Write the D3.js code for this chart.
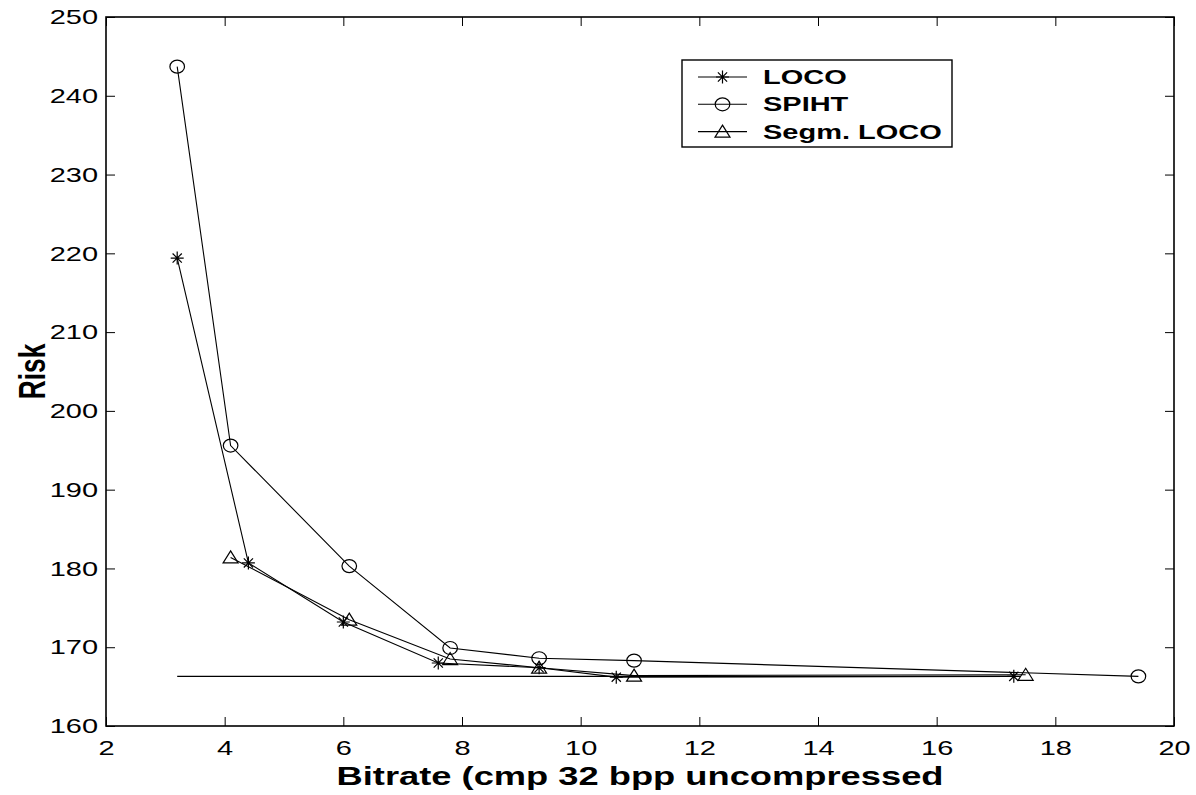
<!DOCTYPE html>
<html>
<head>
<meta charset="utf-8">
<script src="https://cdn.jsdelivr.net/npm/d3@7/dist/d3.min.js"></script>
<style>
  html, body { margin: 0; padding: 0; background: #fff; }
  svg { display: block; }
  text { font-family: "Liberation Sans", Arial, Helvetica, sans-serif; fill: #000; }
</style>
</head>
<body>
<svg id="chart" width="1196" height="795"></svg>
<script>
// Bitrate (x) and risk (y) for each coder
const locoBitrate  = [3.2, 4.4, 6.0, 7.6, 9.3, 10.6, 17.3];
const locoRisk     = [219.4, 180.7, 173.2, 168.0, 167.4, 166.2, 166.3];

const spihtBitrate = [3.2, 4.1, 6.1, 7.8, 9.3, 10.9, 19.4];
const spihtRisk    = [243.7, 195.6, 180.3, 169.9, 168.6, 168.3, 166.3];

const segmBitrate  = [4.1, 6.1, 7.8, 9.3, 10.9, 17.5];
const segmRisk     = [181.4, 173.5, 168.5, 167.4, 166.4, 166.5];

// Plain reference level, drawn without markers
const refBitrate   = [3.2, 17.3];
const refRisk      = [166.3, 166.3];

const xTicks = [2, 4, 6, 8, 10, 12, 14, 16, 18, 20];
const yTicks = [160, 170, 180, 190, 200, 210, 220, 230, 240, 250];

const seriesNames = ["LOCO", "SPIHT", "Segm. LOCO"];
const markerKinds = ["star", "circle", "triangle"];

(function draw() {
  const svg = d3.select("#chart");
  const padL = 106, padR = 1174, padT = 17, padB = 726;
  const stretch = 1.38;   // wide lettering used throughout the figure

  const x = d3.scaleLinear().domain([2, 20]).range([padL, padR]);
  const y = d3.scaleLinear().domain([160, 250]).range([padB, padT]);

  const zip = (xs, ys) => xs.map((v, i) => [v, ys[i]]);
  const series = [
    { name: seriesNames[0], marker: markerKinds[0], pts: zip(locoBitrate, locoRisk) },
    { name: seriesNames[1], marker: markerKinds[1], pts: zip(spihtBitrate, spihtRisk) },
    { name: seriesNames[2], marker: markerKinds[2], pts: zip(segmBitrate, segmRisk) }
  ];

  // Axes box with inward ticks on all four sides
  const tickLen = 9;
  svg.append("rect")
    .attr("x", padL).attr("y", padT)
    .attr("width", padR - padL).attr("height", padB - padT)
    .attr("fill", "none").attr("stroke", "#000").attr("stroke-width", 1.6);

  const xb = d3.axisBottom(x).tickValues(xTicks).tickSizeInner(-tickLen).tickSizeOuter(0).tickPadding(14);
  const xt = d3.axisTop(x).tickValues(xTicks).tickSizeInner(-tickLen).tickSizeOuter(0).tickFormat("");
  const yl = d3.axisLeft(y).tickValues(yTicks).tickSizeInner(-tickLen).tickSizeOuter(0);
  const yr = d3.axisRight(y).tickValues(yTicks).tickSizeInner(-tickLen).tickSizeOuter(0).tickFormat("");

  function styleAxis(g) {
    g.select(".domain").remove();
    g.selectAll(".tick line").attr("stroke", "#000").attr("stroke-width", 1);
    g.selectAll(".tick text")
      .attr("font-size", 21)
      .attr("font-family", "'Liberation Sans', Arial, sans-serif")
      .attr("fill", "#000");
  }
  svg.append("g").attr("transform", `translate(0,${padB})`).call(xb).call(styleAxis)
    .selectAll(".tick text").attr("transform", `scale(${stretch},1)`);
  svg.append("g").attr("transform", `translate(0,${padT})`).call(xt).call(styleAxis);
  svg.append("g").attr("transform", `translate(${padL},0)`).call(yl).call(styleAxis)
    .selectAll(".tick text").attr("x", -8 / stretch).attr("transform", `scale(${stretch},1)`);
  svg.append("g").attr("transform", `translate(${padR},0)`).call(yr).call(styleAxis);

  // Axis titles
  svg.append("g").attr("transform", `translate(${(padL + padR) / 2},785) scale(${stretch},1)`)
    .append("text")
    .attr("text-anchor", "middle")
    .attr("font-size", 26.3).attr("font-weight", "bold")
    .text("Bitrate (cmp 32 bpp uncompressed");
  svg.append("g").attr("transform", `translate(45,${(padT + padB) / 2}) rotate(-90) scale(1,${stretch})`)
    .append("text")
    .attr("text-anchor", "middle")
    .attr("font-size", 26.3).attr("font-weight", "bold")
    .text("Risk");

  // Marker drawing
  function drawMarker(g, kind) {
    if (kind === "star") {
      const a = 6.5, d = 4.6;
      g.append("path")
        .attr("d", `M${-a},0L${a},0M0,${-a}L0,${a}M${-d},${-d}L${d},${d}M${-d},${d}L${d},${-d}`)
        .attr("stroke", "#000").attr("stroke-width", 1.2).attr("fill", "none");
    } else if (kind === "circle") {
      g.append("ellipse").attr("rx", 7.3).attr("ry", 6.5)
        .attr("fill", "none").attr("stroke", "#000").attr("stroke-width", 1.2);
    } else {
      g.append("path").attr("d", "M0,-6.5L7.5,5.5L-7.5,5.5Z")
        .attr("fill", "none").attr("stroke", "#000").attr("stroke-width", 1.2);
    }
  }

  const line = d3.line().x(d => x(d[0])).y(d => y(d[1]));
  const plot = svg.append("g");

  plot.append("path")
    .attr("d", line(zip(refBitrate, refRisk)))
    .attr("fill", "none").attr("stroke", "#000").attr("stroke-width", 1.1);

  series.forEach(s => {
    plot.append("path")
      .attr("d", line(s.pts))
      .attr("fill", "none").attr("stroke", "#000").attr("stroke-width", 1.1);
    s.pts.forEach(p => {
      const g = plot.append("g").attr("transform", `translate(${x(p[0])},${y(p[1])})`);
      drawMarker(g, s.marker);
    });
  });

  // Legend
  const lg = svg.append("g");
  lg.append("rect")
    .attr("x", 682).attr("y", 60).attr("width", 270).attr("height", 87)
    .attr("fill", "#fff").attr("stroke", "#000").attr("stroke-width", 1.4);
  series.forEach((s, i) => {
    const yy = 77 + i * 27.3;
    lg.append("line").attr("x1", 698).attr("x2", 747).attr("y1", yy).attr("y2", yy)
      .attr("stroke", "#000").attr("stroke-width", 1.1);
    drawMarker(lg.append("g").attr("transform", `translate(722.5,${yy})`), s.marker);
    lg.append("g").attr("transform", `translate(763,${yy + 7}) scale(${stretch},1)`)
      .append("text")
      .attr("font-size", 21).attr("font-weight", "bold")
      .text(s.name);
  });
})();
</script>
</body>
</html>
